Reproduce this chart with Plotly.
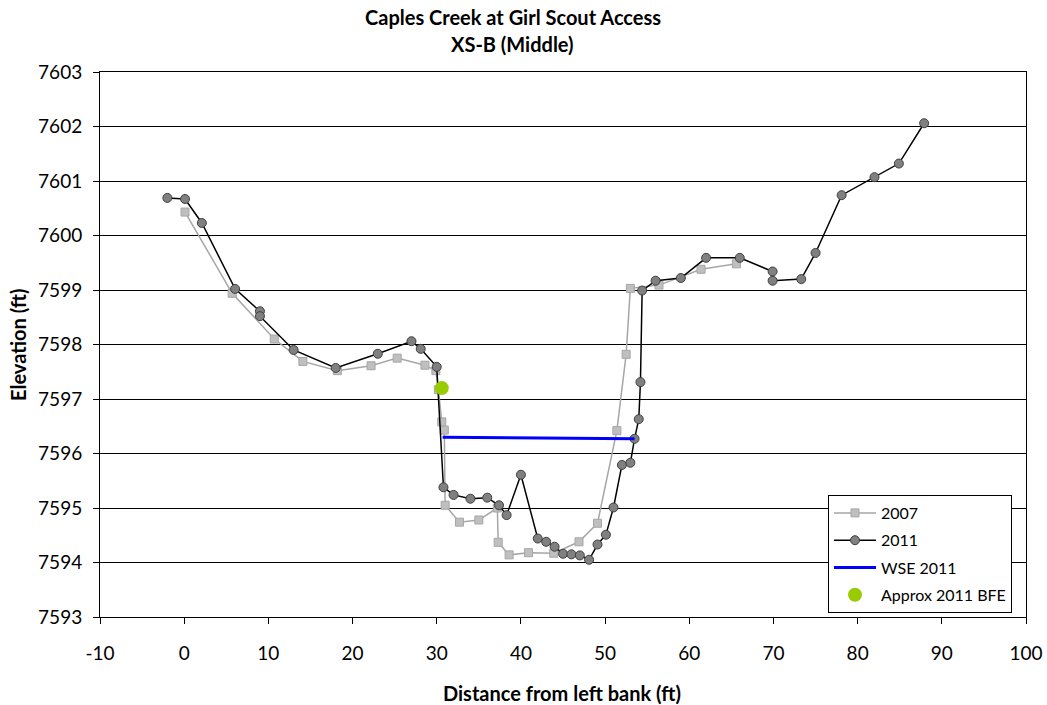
import plotly.graph_objects as go

# 2007 survey
x2007 = [0.1, 5.7, 10.7, 14.1, 18.2, 22.2, 25.3, 28.6, 29.9, 30.2, 30.6, 30.9, 31.0, 32.7, 35.0,
         37.2, 37.3, 38.6, 40.9, 43.9, 46.9, 49.1, 51.4, 52.5, 53.0, 56.4, 61.4, 65.6]
y2007 = [7600.43, 7598.94, 7598.10, 7597.69, 7597.52, 7597.61, 7597.75, 7597.62, 7597.52, 7597.17,
         7596.58, 7596.43, 7595.05, 7594.74, 7594.78, 7595.00, 7594.37, 7594.14, 7594.18, 7594.17,
         7594.38, 7594.72, 7596.42, 7597.82, 7599.03, 7599.09, 7599.38, 7599.48]

# 2011 survey
x2011 = [-2.0, 0.1, 2.1, 6.05, 9.0, 9.0, 13.0, 18.0, 23.0, 27.0, 28.1, 30.0, 30.8, 32.0, 34.0, 36.0,
         37.4, 38.3, 40.0, 42.0, 43.0, 44.0, 45.0, 46.0, 47.0, 48.1, 49.1, 50.1, 51.0, 52.0, 53.0,
         53.5, 54.0, 54.2, 54.4, 56.0, 59.0, 62.0, 66.0, 69.9, 69.9, 73.3, 75.0, 78.1, 82.0, 84.9, 87.9]
y2011 = [7600.69, 7600.67, 7600.23, 7599.02, 7598.61, 7598.52, 7597.90, 7597.57, 7597.83, 7598.06,
         7597.92, 7597.59, 7595.38, 7595.24, 7595.17, 7595.19, 7595.05, 7594.87, 7595.61, 7594.44,
         7594.38, 7594.29, 7594.16, 7594.15, 7594.13, 7594.05, 7594.33, 7594.51, 7595.01, 7595.79,
         7595.83, 7596.27, 7596.63, 7597.31, 7598.99, 7599.17, 7599.22, 7599.59, 7599.59, 7599.34,
         7599.17, 7599.20, 7599.68, 7600.74, 7601.07, 7601.32, 7602.06]

# Water surface elevation 2011
xwse = [30.7, 53.5]
ywse = [7596.30, 7596.27]

# Approx 2011 BFE
xbfe = [30.6]
ybfe = [7597.20]

# Tick labels
xtick_vals = [-10, 0, 10, 20, 30, 40, 50, 60, 70, 80, 90, 100]
xtick_text = ["-10", "0", "10", "20", "30", "40", "50", "60", "70", "80", "90", "100"]
ytick_vals = [7593, 7594, 7595, 7596, 7597, 7598, 7599, 7600, 7601, 7602, 7603]
ytick_text = [str(v) for v in ytick_vals]

title_line1 = "Caples Creek at Girl Scout Access"
title_line2 = "XS-B (Middle)"
x_title = "Distance from left bank (ft)"
y_title = "Elevation (ft)"

FONT = "Lato, Carlito, Calibri, sans-serif"

fig = go.Figure()
fig.add_trace(go.Scatter(
    x=x2007, y=y2007, name="2007", mode="lines+markers", legendgroup="a",
    line=dict(color="#a6a6a6", width=1.5),
    marker=dict(symbol="square", size=8, color="#bfbfbf", line=dict(color="#a6a6a6", width=1)),
))
fig.add_trace(go.Scatter(
    x=x2011, y=y2011, name="2011", mode="lines+markers", legendgroup="b",
    line=dict(color="#000000", width=1.5),
    marker=dict(symbol="circle", size=9, color="#808080", line=dict(color="#404040", width=1)),
))
fig.add_trace(go.Scatter(
    x=xwse, y=ywse, name="WSE 2011", mode="lines", legendgroup="c",
    line=dict(color="#0000ff", width=3),
))
fig.add_trace(go.Scatter(
    x=xbfe, y=ybfe, name="Approx 2011 BFE", mode="markers", legendgroup="d",
    marker=dict(symbol="circle", size=14, color="#99cc00"),
))

L, R, T, B = 100, 21, 72, 88
W, H = 1047, 705
pw, ph = W - L - R, H - T - B

def px_x(p):
    return (p - L) / pw

def px_y(p):
    return (H - B - p) / ph

fig.update_layout(
    width=W, height=H,
    margin=dict(l=L, r=R, t=T, b=B, autoexpand=False),
    paper_bgcolor="white", plot_bgcolor="white",
    font=dict(family=FONT, size=18, color="black"),
    showlegend=True,
    legend=dict(
        x=px_x(828), y=px_y(495), xanchor="left", yanchor="top",
        bgcolor="white", bordercolor="black", borderwidth=1,
        font=dict(family=FONT, size=16, color="black"),
        tracegroupgap=3.5, itemwidth=42,
    ),
    annotations=[
        dict(text="<b>%s</b>" % title_line1, x=px_x(513), y=px_y(17), xref="paper", yref="paper",
             xanchor="center", yanchor="middle", showarrow=False, font=dict(family=FONT, size=20)),
        dict(text="<b>%s</b>" % title_line2, x=px_x(512), y=px_y(44), xref="paper", yref="paper",
             xanchor="center", yanchor="middle", showarrow=False, font=dict(family=FONT, size=20)),
        dict(text="<b>%s</b>" % x_title, x=px_x(562), y=px_y(693), xref="paper", yref="paper",
             xanchor="center", yanchor="middle", showarrow=False, font=dict(family=FONT, size=20)),
        dict(text="<b>%s</b>" % y_title, x=px_x(18), y=px_y(345), xref="paper", yref="paper",
             xanchor="center", yanchor="middle", showarrow=False, textangle=-90,
             font=dict(family=FONT, size=20)),
    ],
)

fig.update_xaxes(
    range=[-10, 100], tickmode="array", tickvals=xtick_vals, ticktext=xtick_text,
    showgrid=False, zeroline=False, automargin=False,
    showline=True, linecolor="black", linewidth=1, mirror=True,
    ticks="outside", ticklen=6, tickcolor="black", ticklabelstandoff=13,
    tickfont=dict(family=FONT, size=19),
)
fig.update_yaxes(
    range=[7593, 7603], tickmode="array", tickvals=ytick_vals, ticktext=ytick_text,
    showgrid=True, gridcolor="black", gridwidth=1, zeroline=False, automargin=False,
    showline=True, linecolor="black", linewidth=1, mirror=True,
    ticks="outside", ticklen=6, tickcolor="black", ticklabelstandoff=7,
    tickfont=dict(family=FONT, size=19),
)

fig.write_html("out.html")
